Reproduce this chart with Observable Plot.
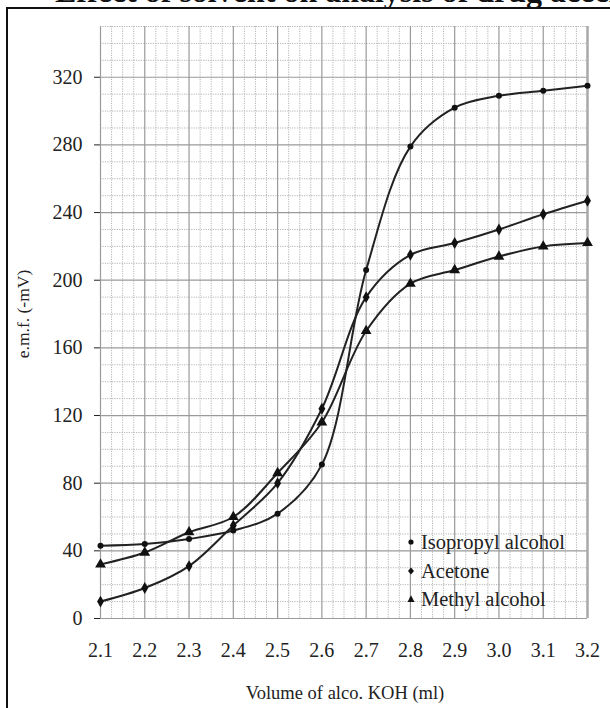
<!DOCTYPE html>
<html><head><meta charset="utf-8">
<script src="https://cdn.jsdelivr.net/npm/d3@7"></script>
<script src="https://cdn.jsdelivr.net/npm/@observablehq/plot@0.6"></script>
<style>
body{margin:0;background:#fff;}
#wrap{position:relative;width:610px;height:708px;overflow:hidden;font-family:"Liberation Serif","Times New Roman",serif;color:#222;}
#chart{position:absolute;left:0;top:0;}
#frame{position:absolute;left:6px;top:7px;width:700px;height:800px;border:2px solid #111;box-sizing:border-box;}
#title{position:absolute;left:0;top:0;}
#ylabel{position:absolute;left:23px;top:314px;transform:translate(-50%,-50%) rotate(-90deg);font-size:17.5px;white-space:nowrap;}
#xlabel{position:absolute;left:345px;top:693px;transform:translate(-50%,-50%);font-size:18.5px;white-space:nowrap;}
#legend{position:absolute;left:406px;top:528px;font-size:20.5px;}
#legend .row{height:28.5px;line-height:28.5px;display:flex;align-items:center;white-space:nowrap;}
#legend svg{margin-right:5px;}
</style></head>
<body>
<div id="wrap">
  <div id="chart"></div>
  <div id="frame"></div>
  <svg id="title" width="610" height="12"><text x="55" y="2" font-size="32" font-weight="bold" font-family="Liberation Serif, Times New Roman, serif" fill="#111">Effect of solvent on analysis of drug aceclofenac</text></svg>
  <div id="ylabel">e.m.f. (-mV)</div>
  <div id="xlabel">Volume of alco. KOH (ml)</div>
  <div id="legend"></div>
</div>
<script>
// Data
const volume = [2.1, 2.2, 2.3, 2.4, 2.5, 2.6, 2.7, 2.8, 2.9, 3.0, 3.1, 3.2];
const isopropyl = [43, 44, 47, 52, 62, 91, 206, 279, 302, 309, 312, 315];
const acetone = [10, 18, 31, 55, 80, 124, 190, 215, 222, 230, 239, 247];
const methyl = [32, 39, 51, 60, 86, 116, 170, 198, 206, 214, 220, 222];
const seriesNames = ["Isopropyl alcohol", "Acetone", "Methyl alcohol"];
const seriesSymbols = ["circle", "diamond", "triangle"];
const xTicks = [2.1, 2.2, 2.3, 2.4, 2.5, 2.6, 2.7, 2.8, 2.9, 3.0, 3.1, 3.2];
const yTicks = [0, 40, 80, 120, 160, 200, 240, 280, 320];

const seriesValues = [isopropyl, acetone, methyl];
const rows = [];
seriesNames.forEach((name, i) => {
  volume.forEach((v, j) => rows.push({series: name, symbol: seriesSymbols[i], x: v, y: seriesValues[i][j]}));
});

const xMinor = d3.range(0, 45).map(i => +(2.1 + i * 0.025).toFixed(3)).filter(v => Math.abs(v * 10 - Math.round(v * 10)) > 1e-6);
const yMinor = d3.range(10, 351, 10).filter(v => v % 40 !== 0);

const serif = "'Liberation Serif', 'Times New Roman', serif";
const chart = Plot.plot({
  width: 610,
  height: 708,
  marginTop: 26,
  marginBottom: 90,
  marginLeft: 100,
  marginRight: 23,
  style: {fontFamily: serif, fontSize: "20px", color: "#222", background: "white"},
  x: {domain: [2.1, 3.2], ticks: xTicks, tickFormat: d3.format(".1f"), tickSize: 0, tickPadding: 24, label: null},
  y: {domain: [0, 350], ticks: yTicks, tickSize: 6, tickPadding: 12, label: null},
  marks: [
    Plot.ruleX(xMinor, {stroke: "#b5b5b5", strokeDasharray: "1.2,1.2"}),
    Plot.ruleY(yMinor, {stroke: "#b5b5b5", strokeDasharray: "1.2,1.2"}),
    Plot.ruleX(xTicks, {stroke: "#9a9a9a", strokeWidth: 1.2}),
    Plot.ruleY(yTicks, {stroke: "#9a9a9a", strokeWidth: 1.2}),
    Plot.ruleX([3.2], {stroke: "#aaa", strokeWidth: 2.5}),
    Plot.line(rows, {x: "x", y: "y", z: "series", stroke: "#222", strokeWidth: 2, curve: "catmull-rom"}),
    Plot.dot(rows.filter(d => d.symbol === "circle"), {x: "x", y: "y", symbol: "symbol", r: 3, fill: "#111", stroke: "none"}),
    Plot.dot(rows.filter(d => d.symbol === "diamond"), {x: "x", y: "y", symbol: "symbol", r: 3.6, fill: "#111", stroke: "none"}),
    Plot.dot(rows.filter(d => d.symbol === "triangle"), {x: "x", y: "y", symbol: "symbol", r: 4, fill: "#111", stroke: "none"})
  ]
});
d3.select(chart).selectAll("text")
  .style("font-family", serif)
  .style("font-size", "20px")
  .style("fill", "#222");
document.getElementById("chart").appendChild(chart);

const shapes = {
  circle: '<circle cx="5" cy="5" r="2.6" fill="#111"/>',
  diamond: '<polygon points="5,1.4 8,5 5,8.6 2,5" fill="#111"/>',
  triangle: '<polygon points="5,1.2 8.5,8 1.5,8" fill="#111"/>'
};
const legend = document.getElementById("legend");
seriesNames.forEach((name, i) => {
  const row = document.createElement("div");
  row.className = "row";
  row.innerHTML = `<svg width="10" height="10">${shapes[seriesSymbols[i]]}</svg><span>${name}</span>`;
  legend.appendChild(row);
});
</script>
</body></html>
